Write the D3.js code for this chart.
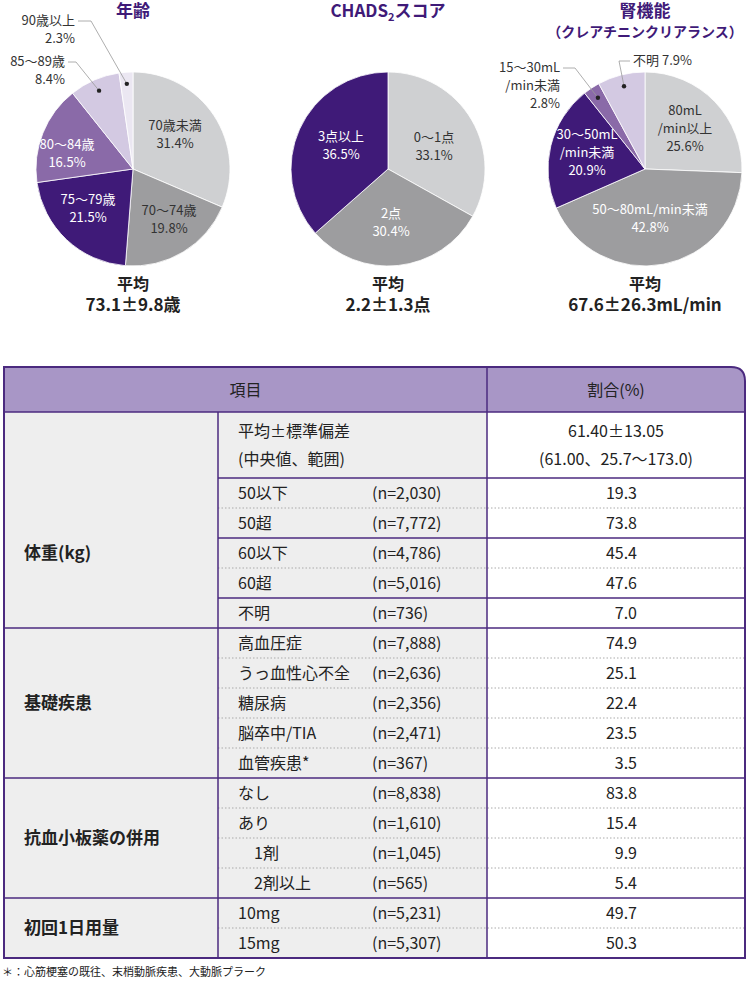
<!DOCTYPE html><html><head><meta charset="utf-8"><script src="https://cdn.jsdelivr.net/npm/d3@7"></script>
<style>body{margin:0;background:#fff}text{font-family:"Noto Sans CJK JP","Noto Sans",sans-serif}</style></head><body>
<svg id="c" width="749" height="982"></svg>
<script>
const ageLabels=["70歳未満","70～74歳","75～79歳","80～84歳","85～89歳","90歳以上"];
const ageValues=[31.4,19.8,21.5,16.5,8.4,2.3];
const chadsLabels=["0～1点","2点","3点以上"];
const chadsValues=[33.1,30.4,36.5];
const renalLabels=["80mL\n/min以上","50～80mL/min未満","30～50mL\n/min未満","15～30mL\n/min未満","不明"];
const renalValues=[25.6,42.8,20.9,2.8,7.9];
const rowGroups=["体重(kg)","基礎疾患","抗血小板薬の併用","初回1日用量"];
const rowItems=[["50以下","50超","60以下","60超","不明"],["高血圧症","うっ血性心不全","糖尿病","脳卒中/TIA","血管疾患*"],["なし","あり","　1剤","　2剤以上"],["10mg","15mg"]];
const rowN=[["2,030","7,772","4,786","5,016","736"],["7,888","2,636","2,356","2,471","367"],["8,838","1,610","1,045","565"],["5,231","5,307"]];
const rowPct=[["19.3","73.8","45.4","47.6","7.0"],["74.9","25.1","22.4","23.5","3.5"],["83.8","15.4","9.9","5.4"],["49.7","50.3"]];
(function(){
const svg=d3.select("#c");
const P="#3f1a78",LG="#cfd0d2",MG="#9d9d9f",MP="#8a6aa8",LV="#d3c9e2",VL="#ebe7f2";
const R=97;
function pie(cx,cy,vals,cols,labPos,labCols){
  const g=svg.append("g").attr("transform",`translate(${cx},${cy})`);
  const arcs=d3.pie().sort(null)(vals);
  const arc=d3.arc().innerRadius(0).outerRadius(R);
  g.selectAll("path").data(arcs).join("path").attr("d",arc).attr("fill",(d,i)=>cols[i]).attr("stroke","#fff").attr("stroke-width",0.8);
  arcs.forEach((a,i)=>{
    if(!labPos[i])return;
    const lines=labPos[i].t.split("\n");
    const t=g.append("text").attr("font-size",13).attr("fill",labCols[i]).attr("text-anchor",labPos[i].a||"middle");
    lines.forEach((l,j)=>t.append("tspan").attr("x",labPos[i].x).attr("y",labPos[i].y+j*18).text(l));
    if(labPos[i].line){
      const m=d3.arc().innerRadius(R*0.88).outerRadius(R*0.88).centroid(a);
      g.append("polyline").attr("points",labPos[i].line.map(p=>p.join(",")).join(" ")+" "+m.join(",")).attr("fill","none").attr("stroke","#999").attr("stroke-width",0.8);
      g.append("circle").attr("cx",m[0]).attr("cy",m[1]).attr("r",2.2).attr("fill","#222");
    }
  });
}
function title(x,y,t,s){svg.append("text").attr("x",x).attr("y",y).attr("text-anchor","middle").attr("font-size",s||17).attr("font-weight","bold").attr("fill",P).text(t);}
title(133,17,"年齢");
const ct=svg.append("text").attr("x",388).attr("y",17).attr("text-anchor","middle").attr("font-size",17).attr("font-weight","bold").attr("fill",P);
ct.append("tspan").text("CHADS");ct.append("tspan").attr("font-size",11).attr("dy",4).text("2");ct.append("tspan").attr("dy",-4).text("スコア");
title(645,17,"腎機能");title(645,37,"（クレアチニンクリアランス）",14);

pie(133,169,ageValues,[LG,MG,P,MP,LV,VL],[
 {t:ageLabels[0]+"\n"+ageValues[0]+"%",x:42,y:-39},
 {t:ageLabels[1]+"\n"+ageValues[1]+"%",x:36,y:46},
 {t:ageLabels[2]+"\n"+ageValues[2]+"%",x:-45,y:35},
 {t:ageLabels[3]+"\n"+ageValues[3]+"%",x:-66,y:-20},
 {t:ageLabels[4]+"\n"+ageValues[4]+"%",x:-68,y:-103,a:"end",line:[[-65,-107],[-57,-107]]},
 {t:ageLabels[5]+"\n"+ageValues[5]+"%",x:-58,y:-144,a:"end",line:[[-55,-148],[-42,-148]]}],
 ["#333","#333","#fff","#fff","#333","#333"]);
pie(388,169,chadsValues,[LG,MG,P],[
 {t:chadsLabels[0]+"\n"+chadsValues[0]+"%",x:46,y:-27},
 {t:chadsLabels[1]+"\n"+chadsValues[1]+"%",x:3,y:49},
 {t:chadsLabels[2]+"\n"+chadsValues[2]+"%",x:-47,y:-28}],["#333","#fff","#fff"]);
pie(645,169,renalValues,[LG,MG,P,MP,LV],[
 {t:renalLabels[0]+"\n"+renalValues[0]+"%",x:40,y:-54},
 {t:renalLabels[1]+"\n"+renalValues[1]+"%",x:5,y:45},
 {t:renalLabels[2]+"\n"+renalValues[2]+"%",x:-58,y:-30},
 {t:renalLabels[3]+"\n"+renalValues[3]+"%",x:-85,y:-97,a:"end",line:[[-82,-101],[-70,-101]]},
 {t:renalLabels[4]+" "+renalValues[4]+"%",x:-12,y:-104,a:"start",line:[[-15,-108],[-26,-108]]}],["#333","#fff","#fff","#333","#333"]);
[[133,"73.1±9.8歳"],[388,"2.2±1.3点"],[645,"67.6±26.3mL/min"]].forEach(([x,t])=>{
 svg.append("text").attr("x",x).attr("y",290).attr("text-anchor","middle").attr("font-size",16).attr("font-weight","bold").attr("fill","#222").text("平均");
 svg.append("text").attr("x",x).attr("y",311).attr("text-anchor","middle").attr("font-size",17).attr("font-weight","bold").attr("fill","#222").text(t);
});

const L=4,Rt=745,c1=218,c2=487,T0=367,hb=412,rh=30,firstH=66;
const B="#4b2a7f";
const tg=svg.append("g");
let y=hb+firstH;
const totalRows=d3.sum(rowItems,d=>d.length);
const bottom=y+totalRows*rh;
const outline=`M${L},${T0}H${Rt-14}Q${Rt},${T0} ${Rt},${T0+14}V${bottom}H${L}Z`;
tg.append("path").attr("d",outline).attr("fill","#fff");
tg.append("path").attr("d",`M${L},${T0}H${Rt-14}Q${Rt},${T0} ${Rt},${T0+14}V${hb}H${L}Z`).attr("fill","#a896c6");
tg.append("rect").attr("x",L).attr("y",hb).attr("width",c2-L).attr("height",bottom-hb).attr("fill","#eeeeee");
const tx=(x,yy,t,a,s)=>tg.append("text").attr("x",x).attr("y",yy).attr("text-anchor",a||"start").attr("font-size",s||16).attr("fill","#222").text(t);
tx((L+c2)/2,396,"項目","middle");tx((c2+Rt)/2,396,"割合(%)","middle");
tx(238,437,"平均±標準偏差");tx(238,465,"(中央値、範囲)");
tx(616,437,"61.40±13.05","middle");tx(616,465,"(61.00、25.7～173.0)","middle");
const hline=(x1,x2,yy,dash)=>tg.append("line").attr("x1",x1).attr("x2",x2).attr("y1",yy).attr("y2",yy).attr("stroke",dash?"#aaa":B).attr("stroke-width",dash?1:1.5).attr("stroke-dasharray",dash?"1.5,2":null);
hline(L,Rt,hb);hline(c1,Rt,hb+firstH);
rowGroups.forEach((g,gi)=>{
 const y0=y;
 rowItems[gi].forEach((it,i)=>{
  const yy=y+rh/2+6;
  tx(238,yy,it);tx(372,yy,"(n="+rowN[gi][i]+")");tx(637,yy,rowPct[gi][i],"end");
  if(i>0){const solid=gi===0&&(i===2||i===4);hline(c1,Rt,y,!solid);}
  y+=rh;
 });
 tx(24,(y0+y)/2+6,g,"start",17).attr("font-weight","bold");
 hline(L,Rt,y);
});
[c1,c2].forEach((x,i)=>tg.append("line").attr("x1",x).attr("x2",x).attr("y1",i?T0:hb).attr("y2",bottom).attr("stroke",B).attr("stroke-width",1.5));
tg.append("path").attr("d",outline).attr("fill","none").attr("stroke",B).attr("stroke-width",2);
svg.append("text").attr("x",2).attr("y",976).attr("font-size",11).attr("fill","#222").text("＊：心筋梗塞の既往、末梢動脈疾患、大動脈プラーク");
})();
</script></body></html>
